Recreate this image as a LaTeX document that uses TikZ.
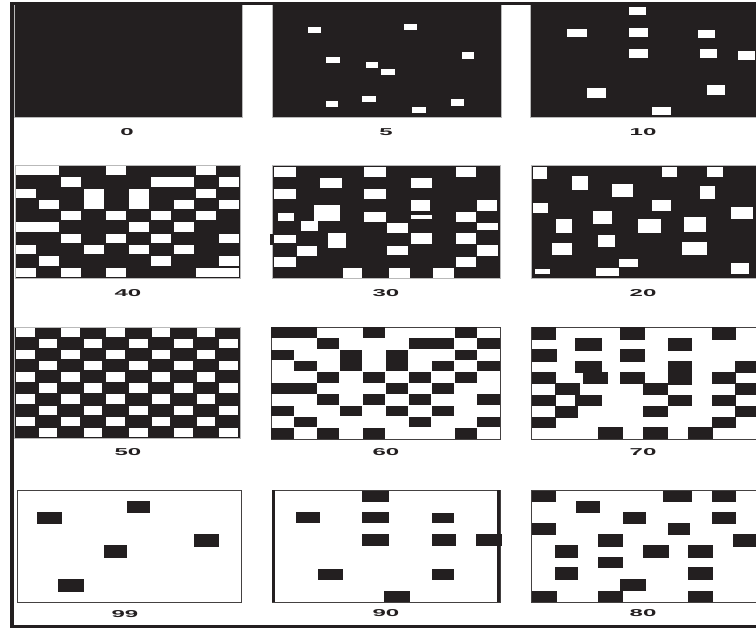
\documentclass[tikz,border=0pt]{standalone}
\usepackage{fontspec}
\newfontfamily\lblfont{Liberation Sans}
\definecolor{ink}{HTML}{231F20}
\newcommand\gcell[4]{\fill ({(#1-1)*\cw+\ix},{(#2-1)*\ch+\iy}) rectangle ({(#1-1+#3)*\cw-\ix},{(#2-1+#4)*\ch-\iy});}
\begin{document}
\begin{tikzpicture}[x=1pt,y=-1pt,
  darkpanel/.style={fill=ink, draw=gray!55, line width=0.8pt},
  lightpanel/.style={fill=white, draw=ink!85, line width=0.9pt},
  lbl/.style={font=\lblfont\bfseries\fontsize{10}{10}\selectfont, text=ink, xscale=2.4, inner sep=0pt}]
\useasboundingbox (0,0) rectangle (756,628);
\fill[white] (0,0) rectangle (756,628);

% ---------- row 1 ----------
\filldraw[darkpanel] (14,4) rectangle (242,117);
\filldraw[darkpanel] (272,4) rectangle (501,117);
\filldraw[darkpanel] (530,4) rectangle (757,117);
\foreach \a/\b/\c/\d in {308/27/321/33, 404/24/417/30, 326/57/340/63, 462/52/474/59,
  366/62/378/68, 381/69/395/75, 326/101/338/107, 362/96/376/102, 412/107/426/113, 451/99/464/106}
  {\fill[white] (\a,\b) rectangle (\c,\d);}
\foreach \a/\b/\c/\d in {629/7/646/15, 567/29/587/37, 629/28/648/37, 698/30/715/38, 629/49/648/58,
  700/49/717/58, 738/51/755/60, 587/88/606/98, 707/85/725/95, 652/107/671/115}
  {\fill[white] (\a,\b) rectangle (\c,\d);}

% ---------- row 2 ----------
% 40
\filldraw[darkpanel] (15,165) rectangle (240,278);
\begin{scope}[shift={(15,165)}, fill=white]
  \def\cw{22.5}\def\ch{11.3}\def\ix{1.2}\def\iy{1}
  \foreach \cc/\rr/\ww/\hh in {1/1/2/1, 5/1/1/1, 9/1/1/1,
     3/2/1/1, 7/2/2/1, 10/2/1/1,
     1/3/1/1, 4/3/1/2, 6/3/1/2, 9/3/1/1,
     2/4/1/1, 8/4/1/1, 10/4/1/1,
     3/5/1/1, 5/5/1/1, 7/5/1/1, 9/5/1/1,
     1/6/2/1, 6/6/1/1, 8/6/1/1,
     3/7/1/1, 5/7/1/1, 7/7/1/1, 10/7/1/1,
     1/8/1/1, 4/8/1/1, 6/8/1/1, 8/8/1/1,
     2/9/1/1, 7/9/1/1, 10/9/1/1,
     1/10/1/1, 3/10/1/1, 5/10/1/1, 9/10/2/1}
    {\gcell{\cc}{\rr}{\ww}{\hh}}
\end{scope}
% 30
\filldraw[darkpanel] (272,165) rectangle (500,278);
\fill[ink] (270,234) rectangle (273,245);
\begin{scope}[shift={(272,165)}]
\foreach \a/\b/\c/\d in {2/2/24/12, 92/2/114/12, 184/2/204/12, 48/13/70/23, 139/13/160/23,
  2/24/24/34, 92/24/114/34, 139/35/158/46, 205/35/225/46, 42/40/68/56, 6/48/22/56,
  92/47/114/57, 139/50/160/54, 184/47/204/57, 29/56/46/66, 115/58/136/68, 205/58/226/65,
  2/70/24/78, 56/68/74/83, 139/68/160/79, 184/68/204/79, 25/81/45/91, 115/81/136/90,
  205/80/226/91, 2/92/24/102, 184/92/204/102, 71/103/90/113, 117/103/138/113, 161/103/182/113}
  {\fill[white] (\a,\b) rectangle (\c,\d);}
\end{scope}
% 20
\filldraw[darkpanel] (531,165) rectangle (757,278);
\foreach \a/\b/\c/\d in {533/167/547/179, 572/176/588/190, 662/167/677/177, 707/167/723/177,
  612/184/633/197, 700/186/715/199, 533/203/548/213, 652/200/671/211, 731/207/753/219,
  593/211/612/224, 556/219/572/233, 638/219/661/233, 684/217/706/232, 598/235/615/247,
  552/243/572/255, 682/242/707/255, 619/259/638/267, 535/269/550/274, 596/268/619/276,
  731/263/749/274}
  {\fill[white] (\a,\b) rectangle (\c,\d);}

% ---------- row 3 ----------
% 50
\filldraw[darkpanel] (14,327) rectangle (240,438);
\begin{scope}[shift={(14,327)}, fill=white]
  \def\cw{22.6}\def\ch{11.1}\def\ix{2}\def\iy{0.9}
  \foreach \rr in {1,3,5,7,9} {\foreach \cc in {1,3,5,7,9} {\gcell{\cc}{\rr}{1}{1}}}
  \foreach \rr in {2,4,6,8,10} {\foreach \cc in {2,4,6,8,10} {\gcell{\cc}{\rr}{1}{1}}}
\end{scope}
% 60
\filldraw[lightpanel] (271,327) rectangle (500,439);
\begin{scope}[shift={(271,327)}, fill=ink]
  \def\cw{22.9}\def\ch{11.2}\def\ix{0.3}\def\iy{0.3}
  \foreach \cc/\rr/\ww/\hh in {1/1/2/1, 5/1/1/1, 9/1/1/1,
     3/2/1/1, 7/2/2/1, 10/2/1/1,
     1/3/1/1, 4/3/1/2, 6/3/1/2, 9/3/1/1,
     2/4/1/1, 8/4/1/1, 10/4/1/1,
     3/5/1/1, 5/5/1/1, 7/5/1/1, 9/5/1/1,
     1/6/2/1, 6/6/1/1, 8/6/1/1,
     3/7/1/1, 5/7/1/1, 7/7/1/1, 10/7/1/1,
     1/8/1/1, 4/8/1/1, 6/8/1/1, 8/8/1/1,
     2/9/1/1, 7/9/1/1, 10/9/1/1,
     1/10/1/1, 3/10/1/1, 5/10/1/1, 9/10/1/1}
    {\gcell{\cc}{\rr}{\ww}{\hh}}
\end{scope}
% 70
\filldraw[lightpanel] (531,327) rectangle (757,439);
\begin{scope}[shift={(531,327)}]
\foreach \a/\b/\c/\d in {1/0/25/13, 89/0/114/13, 181/0/205/13, 44/11/71/24, 137/11/161/24,
  1/22/26/35, 89/22/114/35, 44/34/71/46, 52/45/77/57, 137/34/161/58, 204/34/225/46,
  1/45/25/57, 89/45/114/57, 181/45/205/57, 24/56/49/68, 112/56/137/68, 204/56/225/68,
  1/68/25/79, 44/68/71/79, 137/68/161/79, 181/68/205/79, 24/79/47/91, 112/79/137/90,
  204/79/225/90, 1/90/25/101, 181/90/205/101, 67/100/92/112, 112/100/137/112, 157/100/182/112}
  {\fill[ink] (\a,\b) rectangle (\c,\d);}
\end{scope}

% ---------- row 4 ----------
% 99
\filldraw[lightpanel] (17,490) rectangle (241,602);
\foreach \a/\b/\c/\d in {37/512/62/524, 127/501/150/513, 194/534/219/547, 104/545/127/558, 58/579/84/592}
  {\fill[ink] (\a,\b) rectangle (\c,\d);}
% 90
\filldraw[lightpanel] (272,490) rectangle (500,602);
\fill[ink] (272,490) rectangle (275,602);
\fill[ink] (497,490) rectangle (500,602);
\foreach \a/\b/\c/\d in {362/491/389/502, 296/512/320/523, 362/512/389/523, 432/513/454/523,
  362/534/389/546, 432/534/456/546, 476/534/502/546, 318/569/343/580, 432/569/454/580, 384/591/410/602}
  {\fill[ink] (\a,\b) rectangle (\c,\d);}
% 80
\filldraw[lightpanel] (531,490) rectangle (757,602);
\foreach \a/\b/\c/\d in {532/491/556/502, 576/501/600/513, 663/491/692/502, 712/491/736/502,
  623/512/646/524, 712/512/736/524, 532/523/556/535, 668/523/690/535, 598/534/623/547,
  733/534/756/547, 555/545/578/558, 643/545/669/558, 688/545/713/558, 598/557/623/568,
  555/567/578/580, 688/567/713/580, 620/579/646/591, 532/591/557/602, 598/591/623/602,
  688/591/713/602}
  {\fill[ink] (\a,\b) rectangle (\c,\d);}

% ---------- outer frame ----------
\fill[ink] (10,2) rectangle (756,5);
\fill[ink] (10,2) rectangle (14,628);
\fill[ink] (10,624.5) rectangle (756,628);

% ---------- labels ----------
\node[lbl] (l0)  at (127,132) {0};
\node[lbl] (l5)  at (386,132) {5};
\node[lbl] (l10) at (643,132) {10};
\node[lbl] (l40) at (128,293) {40};
\node[lbl] (l30) at (386,293) {30};
\node[lbl] (l20) at (643,293) {20};
\node[lbl] (l50) at (128,452) {50};
\node[lbl] (l60) at (386,452) {60};
\node[lbl] (l70) at (643,452) {70};
\node[lbl] (l99) at (125,614) {99};
\node[lbl] (l90) at (386,613) {90};
\node[lbl] (l80) at (643,613) {80};
\end{tikzpicture}
\end{document}
